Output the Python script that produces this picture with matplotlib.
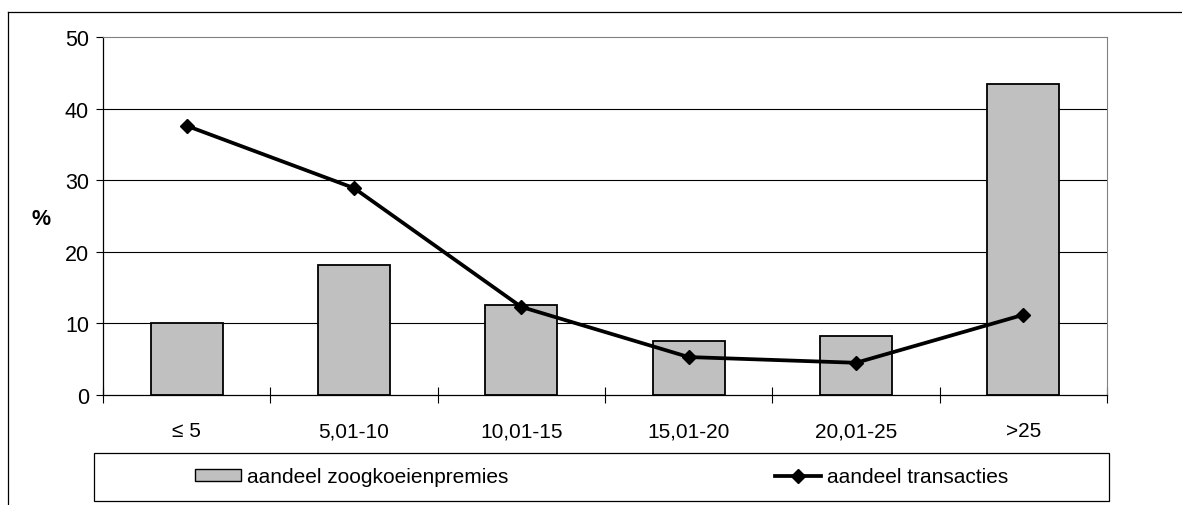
import matplotlib.pyplot as plt
from matplotlib.lines import Line2D
from matplotlib.patches import Rectangle, Patch

plt.rcParams['font.family'] = ['Liberation Sans', 'DejaVu Sans']

categories = ['≤ 5', '5,01-10', '10,01-15', '15,01-20', '20,01-25', '>25']
premies = [10.0, 18.2, 12.6, 7.5, 8.3, 43.5]
transacties = [37.6, 28.9, 12.3, 5.3, 4.5, 11.2]

fig = plt.figure(figsize=(11.82, 5.06), dpi=100)
ax = fig.add_axes([103 / 1182, 1 - 396 / 506, 1004 / 1182, 358 / 506])

x = list(range(len(categories)))
ax.bar(x, premies, width=0.43, color='#c0c0c0', edgecolor='black', linewidth=1.3, zorder=2)
ax.plot(x, transacties, color='black', linewidth=2.7, marker='D', markersize=7.5, zorder=3)

ax.set_xlim(-0.5, len(categories) - 0.5)
ax.set_ylim(0, 50)
ax.set_yticks([0, 10, 20, 30, 40, 50])
for v in [10, 20, 30, 40]:
    ax.axhline(v, color='black', linewidth=0.8, zorder=1)

# category labels centred, ticks on the boundaries
ax.set_xticks([i + 0.5 for i in range(-1, len(categories))])
ax.set_xticklabels([])
ax.set_xticks(x, minor=True)
ax.set_xticklabels(categories, minor=True, fontsize=15)
ax.tick_params(axis='x', which='major', direction='inout', length=11.5, width=0.8)
ax.tick_params(axis='x', which='minor', length=0, pad=19)
ax.tick_params(axis='y', direction='out', length=5, width=0.8, labelsize=15.5, pad=5)

ax.spines['top'].set_color('#808080')
ax.spines['right'].set_color('#808080')
ax.spines['left'].set_linewidth(0.9)
ax.spines['bottom'].set_linewidth(0.9)

fig.text(41 / 1182, 1 - 220 / 506, '%', fontsize=15.5, fontweight='bold', ha='center', va='center')

# legend box
fig.patches.append(Rectangle((94 / 1182, 1 - 502 / 506), 1015 / 1182, 48 / 506,
                             transform=fig.transFigure, fill=False, edgecolor='black', linewidth=0.9))
handles = [Patch(facecolor='#c0c0c0', edgecolor='black', linewidth=1.0),
           Line2D([], [], color='black', linewidth=2.7, marker='D', markersize=7.5)]
fig.legend(handles, ['aandeel zoogkoeienpremies', 'aandeel transacties'], ncol=2,
           loc='center', bbox_to_anchor=(601.5 / 1182, 1 - 478 / 506), frameon=False,
           fontsize=15, handlelength=2.2, handleheight=0.55, handletextpad=0.3,
           columnspacing=12.8)

# outer frame (top and left edges visible)
fig.add_artist(Line2D([8 / 1182, 1.0], [1 - 13 / 506] * 2, transform=fig.transFigure,
                      color='black', linewidth=0.9))
fig.add_artist(Line2D([8 / 1182] * 2, [0.0, 1 - 13 / 506], transform=fig.transFigure,
                      color='black', linewidth=0.9))

fig.savefig('out.png', dpi=100)
